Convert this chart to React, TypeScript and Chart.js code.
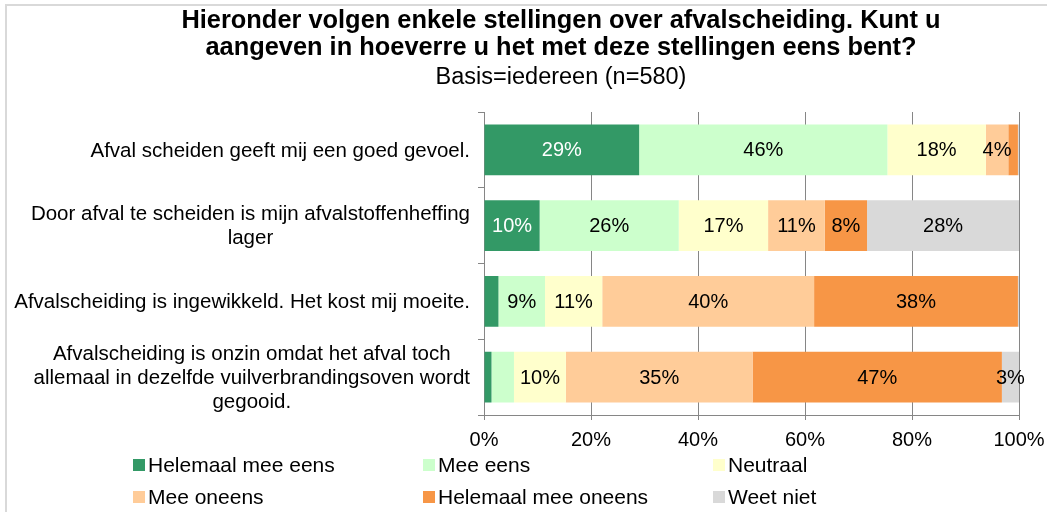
import { useEffect, useRef } from "react";
import { Chart, registerables } from "chart.js";

Chart.register(...registerables);

const FONT = '"Liberation Sans", Arial, sans-serif';

const titleLines = [
  "Hieronder volgen enkele stellingen over afvalscheiding. Kunt u",
  "aangeven in hoeverre u het met deze stellingen eens bent?",
];
const subtitle = "Basis=iedereen (n=580)";

const categories: string[][] = [
  ["Afval scheiden geeft mij een goed gevoel."],
  ["Door afval te scheiden is mijn afvalstoffenheffing", "lager"],
  ["Afvalscheiding is ingewikkeld. Het kost mij moeite."],
  [
    "Afvalscheiding is onzin omdat het afval toch",
    "allemaal in dezelfde vuilverbrandingsoven wordt",
    "gegooid.",
  ],
];

const seriesNames = [
  "Helemaal mee eens",
  "Mee eens",
  "Neutraal",
  "Mee oneens",
  "Helemaal mee oneens",
  "Weet niet",
];

const helemaalMeeEens = [29.0, 10.4, 2.7, 1.4];
const meeEens = [46.4, 26.0, 8.7, 4.2];
const neutraal = [18.4, 16.7, 10.7, 9.7];
const meeOneens = [4.2, 10.6, 39.6, 34.9];
const helemaalMeeOneens = [1.8, 7.9, 38.1, 46.6];
const weetNiet = [0.2, 28.4, 0.2, 3.2];

const seriesColors = ["#339966", "#CCFFCC", "#FFFFCC", "#FFCC99", "#F79646", "#D9D9D9"];
const labelColors = ["#FFFFFF", "#000000", "#000000", "#000000", "#000000", "#000000"];

const xTickValues = [0, 20, 40, 60, 80, 100];

// labels below this value are not shown; plus labels removed in the original
const labelThreshold = 3;
const hiddenLabels: [number, number][] = [[1, 3]];

const decorPlugin = {
  id: "decor",
  beforeDraw(chart: any) {
    const ctx = chart.ctx;
    ctx.save();
    // outer frame (cropped on right and bottom)
    ctx.strokeStyle = "#D9D9D9";
    ctx.lineWidth = 2;
    ctx.beginPath();
    ctx.moveTo(6, chart.height + 5);
    ctx.lineTo(6, 5);
    ctx.lineTo(chart.width + 5, 5);
    ctx.stroke();

    // title
    ctx.fillStyle = "#000";
    ctx.textAlign = "center";
    ctx.textBaseline = "middle";
    ctx.font = `bold 25.4px ${FONT}`;
    ctx.fillText(titleLines[0], 561, 21);
    ctx.fillText(titleLines[1], 561, 48);
    ctx.font = `23.5px ${FONT}`;
    ctx.fillText(subtitle, 561, 78);
    ctx.restore();
  },
  afterDatasetsDraw(chart: any) {
    const ctx = chart.ctx;
    ctx.save();
    ctx.font = `20px ${FONT}`;
    ctx.textAlign = "center";
    ctx.textBaseline = "middle";
    chart.data.datasets.forEach((ds: any, i: number) => {
      const meta = chart.getDatasetMeta(i);
      meta.data.forEach((bar: any, j: number) => {
        const v = ds.data[j];
        if (v < labelThreshold) return;
        if (hiddenLabels.some(([a, b]) => a === i && b === j)) return;
        const p = bar.getProps(["x", "base", "y"], true);
        ctx.fillStyle = labelColors[i];
        ctx.fillText(`${Math.round(v)}%`, (p.x + p.base) / 2, p.y + 1);
      });
    });
    ctx.restore();
  },
  afterDraw(chart: any) {
    const ctx = chart.ctx;
    ctx.save();
    // category labels: block right-aligned, lines centred within the block
    const yScale = chart.scales.y;
    const rightEdge = chart.chartArea.left - 14;
    const lineH = 24;
    ctx.font = `20.5px ${FONT}`;
    ctx.fillStyle = "#000";
    ctx.textAlign = "center";
    ctx.textBaseline = "middle";
    (chart.data.labels as string[][]).forEach((lines, idx) => {
      const widest = Math.max(...lines.map((l) => ctx.measureText(l).width));
      const cx = rightEdge - widest / 2;
      const cy = yScale.getPixelForValue(idx);
      const start = cy - ((lines.length - 1) * lineH) / 2;
      lines.forEach((l, k) => ctx.fillText(l, cx, start + k * lineH + 1));
    });

    // legend: 3 columns x 2 rows
    ctx.font = `21px ${FONT}`;
    ctx.textAlign = "left";
    chart.data.datasets.forEach((ds: any, i: number) => {
      const col = i % 3;
      const row = Math.floor(i / 3);
      const bx = 133 + col * 290;
      const cy = 465 + row * 32;
      ctx.fillStyle = ds.backgroundColor;
      ctx.fillRect(bx, cy - 6, 12, 12);
      ctx.fillStyle = "#000";
      ctx.fillText(ds.label, bx + 15, cy + 1);
    });
    ctx.restore();
  },
};

export default function App() {
  const ref = useRef<HTMLCanvasElement | null>(null);
  useEffect(() => {
    if (!ref.current) return;
    const series = [helemaalMeeEens, meeEens, neutraal, meeOneens, helemaalMeeOneens, weetNiet];
    const chart = new Chart(ref.current, {
      type: "bar",
      data: {
        labels: categories as any,
        datasets: series.map((data, i) => ({
          label: seriesNames[i],
          data,
          backgroundColor: seriesColors[i],
          borderWidth: 0,
          barPercentage: 0.67,
          categoryPercentage: 1,
        })),
      },
      options: {
        indexAxis: "y",
        responsive: false,
        animation: false,
        events: [],
        layout: { padding: { top: 112, right: 28, bottom: 0, left: 0 } },
        plugins: {
          legend: { display: false },
          title: { display: false },
          tooltip: { enabled: false },
        },
        scales: {
          x: {
            stacked: true,
            min: 0,
            max: 100,
            afterFit: (s: any) => {
              s.height = 97;
              s.paddingLeft = 0;
              s.paddingRight = 0;
            },
            afterBuildTicks: (s: any) => {
              s.ticks = xTickValues.map((v) => ({ value: v }));
            },
            grid: {
              color: "#868686",
              lineWidth: 1,
              tickLength: 5,
              drawOnChartArea: true,
            },
            border: { color: "#868686", width: 1 },
            ticks: {
              color: "#000",
              font: { family: FONT, size: 20 },
              padding: 8,
              maxRotation: 0,
              callback: (v: any) => `${v}%`,
            },
          },
          y: {
            stacked: true,
            afterFit: (s: any) => {
              s.width = 484;
            },
            grid: {
              color: "#868686",
              drawOnChartArea: false,
              tickLength: 6,
              offset: true,
            },
            border: { color: "#868686", width: 1 },
            ticks: { display: false },
          },
        },
      },
      plugins: [decorPlugin],
    });
    return () => chart.destroy();
  }, []);
  return (
    <div style={{ position: "fixed", left: 0, top: 0, width: 1047, height: 512, background: "#fff" }}>
      <canvas ref={ref} width={1047} height={512} style={{ display: "block" }} />
    </div>
  );
}
